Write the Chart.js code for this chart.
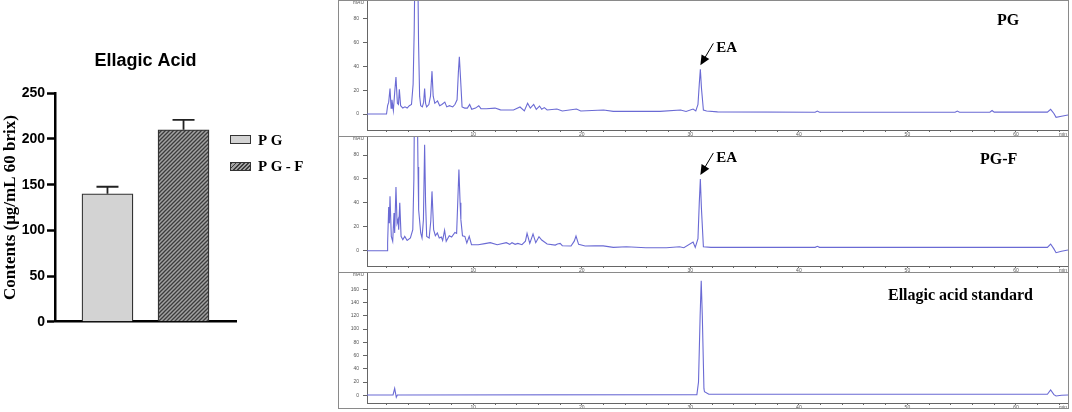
<!DOCTYPE html>
<html>
<head>
<meta charset="utf-8">
<script src="https://cdn.jsdelivr.net/npm/chart.js@4/dist/chart.umd.min.js"></script>
<style>
  html, body { margin: 0; padding: 0; background: #fff; }
  body { width: 1072px; height: 412px; position: relative; overflow: hidden; }
  canvas { position: absolute; }
  .frame { position: absolute; border: 1px solid #8a8a8a; box-sizing: border-box; pointer-events: none; }
  .tag { position: absolute; font: bold 16px "Liberation Serif", "Times New Roman", serif; line-height: 1; color: #000; white-space: nowrap; }
  .key { position: absolute; width: 21px; height: 9px; box-sizing: border-box; border: 1.2px solid #333; }
  .keytxt { position: absolute; font: bold 15px "Liberation Serif", "Times New Roman", serif; line-height: 1; letter-spacing: 3.5px; }
</style>
</head>
<body>
<canvas id="bars" width="330" height="330" style="left:0;top:0"></canvas>
<div class="key" style="left:230px;top:135px;background:#d3d3d3"></div>
<div class="keytxt" style="left:258px;top:132.5px">PG</div>
<div class="key" style="left:230px;top:162px;background:repeating-linear-gradient(135deg,#3c3c3c 0 1.3px,#a2a2a2 1.3px 2.9px)"></div>
<div class="keytxt" style="left:258px;top:159px">PG-F</div>

<canvas id="hplcPG" width="731" height="136" style="left:338px;top:0"></canvas>
<canvas id="hplcPGF" width="731" height="136" style="left:338px;top:136px"></canvas>
<canvas id="hplcSTD" width="731" height="137" style="left:338px;top:272px"></canvas>
<div class="frame" style="left:338px;top:0;width:731px;height:137px"></div>
<div class="frame" style="left:338px;top:136px;width:731px;height:137px"></div>
<div class="frame" style="left:338px;top:272px;width:731px;height:137px"></div>
<div class="tag" style="left:997px;top:11.5px">PG</div>
<div class="tag" style="left:980px;top:150.5px">PG-F</div>
<div class="tag" style="left:888px;top:287px">Ellagic acid standard</div>

<script>
'use strict';

// ── Bar chart data ───────────────────────────────────────────────────────────
const GROUPS      = ['PG', 'PG-F'];
const GROUP_POS   = [0, 1];
const CONTENT     = [140, 210];     // µg/mL 60 brix
const CONTENT_SD  = [7.7, 11];
const CONTENT_TICKS = [0, 50, 100, 150, 200, 250];

// ── Chromatograms (time in min, signal in mAU) ───────────────────────────────
const EA_TIME = 30.92;

const PG_TIME = [0.2, 2.0, 2.1, 2.2, 2.32, 2.42, 2.5, 2.63, 2.75, 2.87, 3.0, 3.1, 3.18, 3.3, 3.5, 3.7, 3.9,
  4.1, 4.3, 4.45, 4.55, 4.65, 4.85, 4.95, 5.05, 5.15, 5.3, 5.42, 5.51, 5.6, 5.7, 5.9, 6.05, 6.19, 6.3,
  6.45, 6.7, 6.9, 7.1, 7.37, 7.55, 7.8, 8.1, 8.3, 8.5, 8.62, 8.71, 8.82, 8.96, 9.2, 9.45, 9.66, 9.85,
  10.2, 10.5, 10.7, 11.2, 12.0, 12.5, 13.7, 14.3, 14.7, 15.0, 15.25, 15.56, 15.8, 16.1, 16.3, 16.54,
  16.8, 17.7, 18.2, 19.5, 19.9, 22.0, 22.9, 27.2, 29.1, 29.6, 30.25, 30.5, 30.7, 30.82, 30.92, 31.02,
  31.2, 31.5, 32.5, 41.5, 41.7, 41.9, 54.4, 54.6, 54.8, 57.6, 57.8, 58.0, 62.9, 63.2, 63.5, 63.7, 64.2, 64.8];
const PG_MAU = [0, 0, 7, 10, 21.5, 5, 12, 3, 18, 31, 9, 8, 20.7, 7, 5, 6, 5,
  7, 8, 25, 70, 150, 150, 60, 15, 7, 6, 10, 21.5, 9, 6, 8, 15, 36, 15,
  9, 11, 7, 8, 10, 6, 7, 6, 8, 12, 35, 48, 30, 6, 5, 5, 8, 4,
  5, 7, 4.5, 4.5, 5, 3.5, 3.4, 5.9, 2.6, 9, 5, 8.1, 4, 6.7, 4, 5.4,
  3.4, 4.2, 2.6, 4.2, 2.6, 3.4, 2.2, 2.2, 3.4, 2.2, 4.2, 2.6, 8, 25, 37.5, 22,
  3.4, 2.6, 1.8, 1.5, 2.5, 1.5, 1.5, 2.5, 1.5, 1.6, 3, 1.6, 1.6, 3.9, 0.5, -2.8, -1.8, -0.8];

const PGF_TIME = [0.2, 2.05, 2.1, 2.2, 2.26, 2.32, 2.44, 2.57, 2.69, 2.75, 2.87, 2.97, 3.06, 3.12, 3.22, 3.34,
  3.5, 3.68, 3.9, 4.2, 4.42, 4.52, 4.6, 4.8, 4.9, 4.96, 5.15, 5.27, 5.4, 5.51, 5.6, 5.7, 5.93, 6.08, 6.19,
  6.34, 6.5, 6.68, 6.86, 7.05, 7.17, 7.35, 7.5, 7.78, 8.0, 8.3, 8.46, 8.58, 8.67, 8.78, 8.85, 9.0, 9.22,
  9.4, 9.62, 9.83, 10.45, 11.06, 11.56, 12.2, 13.04, 13.35, 13.56, 13.85, 14.1, 14.48, 14.8, 14.95, 15.2,
  15.5, 15.75, 16.05, 16.3, 16.8, 17.55, 17.75, 18.0, 18.2, 19.0, 19.3, 19.46, 19.7, 20.3, 21.2, 21.97,
  22.9, 24.1, 25.9, 27.8, 29.0, 29.4, 30.25, 30.45, 30.7, 30.82, 30.92, 31.02, 31.2, 31.9, 41.5, 41.7,
  41.9, 62.9, 63.2, 63.5, 63.7, 64.2, 64.8];
const PGF_MAU = [0, 0, 6.4, 36.5, 23, 45.5, 12, 7.8, 31.5, 14.8, 53.3, 23, 26, 17.6, 40, 12,
  9.2, 12, 8.6, 10.6, 17.6, 60, 150, 150, 70, 34, 14.8, 10.6, 26, 88.7, 40, 12, 10.6, 25, 49.6,
  17.6, 12.5, 14.8, 10.6, 11.4, 8.6, 17, 7.8, 12.5, 11.4, 15.3, 14.5, 45, 67.8, 40, 26, 12.5, 12,
  6.4, 12, 5, 5, 5.9, 6.7, 5, 6.7, 5.3, 6.7, 5.3, 6.1, 5, 8, 14.5, 6.1,
  14, 6.7, 11.7, 8.9, 5.6, 4.7, 5.6, 6.1, 4.2, 3.9, 8, 12.3, 5.3, 3.9, 4.2, 4,
  2.8, 3.3, 2.5, 2.5, 3.3, 2.5, 7.3, 2.8, 10, 40, 60, 35, 3.3, 2.8, 2.8, 3.7,
  2.8, 2.8, 5.6, 1.5, -1.7, -0.5, 0.6];

const STD_TIME = [0.2, 2.6, 2.75, 2.9, 3.0, 30.6, 30.75, 30.9, 31.0, 31.1, 31.25, 31.3, 31.7, 62.9, 63.2, 63.5, 63.7, 64.2, 64.8];
const STD_MAU  = [0.5, 0.5, 10.5, -3, 0.5, 1, 20, 120, 173, 120, 10, 5.4, 1.5, 1.5, 8, 1, -1, 0, 0.5];

const TIME_TICKS   = [2, 4, 6, 8, 10, 12, 14, 16, 18, 20, 22, 24, 26, 28, 30, 32, 34, 36, 38, 40,
  42, 44, 46, 48, 50, 52, 54, 56, 58, 60, 62, 64];
const TIME_LABELS  = [10, 20, 30, 40, 50, 60];
const SAMPLE_TICKS = [0, 20, 40, 60, 80];
const STD_TICKS    = [0, 20, 40, 60, 80, 100, 120, 140, 160];

const COLORS = {
  trace:  '#6a6ad4',
  axis:   '#666',
  tick:   '#555',
  barPG:  '#d3d3d3',
  edge:   '#333',
  hatchBg: '#a2a2a2',
  hatchFg: '#3c3c3c',
};

function hatchPattern() {
  const c = document.createElement('canvas');
  c.width = 4; c.height = 4;
  const g = c.getContext('2d');
  g.fillStyle = COLORS.hatchBg;
  g.fillRect(0, 0, 4, 4);
  g.strokeStyle = COLORS.hatchFg;
  g.lineWidth = 1.3;
  g.beginPath();
  g.moveTo(0, 4); g.lineTo(4, 0);
  g.moveTo(-1, 1); g.lineTo(1, -1);
  g.moveTo(3, 5); g.lineTo(5, 3);
  g.stroke();
  return document.getElementById('bars').getContext('2d').createPattern(c, 'repeat');
}

// keep the plot area exactly where the layout padding puts it
function noLabelPadding(s) {
  s.paddingTop = 0; s.paddingBottom = 0;
  s.paddingLeft = 0; s.paddingRight = 0;
}

// one-sided SD whiskers on top of each bar
const errorBars = {
  id: 'errorBars',
  afterDatasetsDraw(chart) {
    const { ctx } = chart;
    const y = chart.scales.y;
    ctx.save();
    ctx.strokeStyle = '#222';
    ctx.lineWidth = 1.8;
    chart.getDatasetMeta(0).data.forEach((bar, i) => {
      const top = y.getPixelForValue(CONTENT[i] + CONTENT_SD[i]);
      ctx.beginPath();
      ctx.moveTo(bar.x, bar.y);
      ctx.lineTo(bar.x, top);
      ctx.moveTo(bar.x - 11, top);
      ctx.lineTo(bar.x + 11, top);
      ctx.stroke();
    });
    ctx.restore();
  },
};

new Chart(document.getElementById('bars'), {
  type: 'bar',
  data: {
    datasets: [{
      data: GROUP_POS.map((x, i) => ({ x, y: CONTENT[i] })),
      backgroundColor: [COLORS.barPG, hatchPattern()],
      borderColor: COLORS.edge,
      borderWidth: 1.3,
      borderSkipped: 'bottom',
      barThickness: 51,
    }],
  },
  options: {
    responsive: false,
    animation: false,
    layout: { padding: { top: 50, right: 94, bottom: 8.3, left: 0 } },
    plugins: {
      legend: { display: false },
      tooltip: { enabled: false },
      title: {
        display: true,
        text: 'Ellagic Acid',
        fullSize: false,
        color: '#000',
        font: { family: 'Liberation Sans, Arial, sans-serif', size: 18, weight: 'bold' },
        padding: { top: 0, bottom: 21.7 },
      },
    },
    scales: {
      x: {
        type: 'linear',
        min: -0.69,
        max: 1.69,
        offset: false,
        ticks: { display: false },
        grid: { display: false },
        border: { display: true, color: '#000', width: 2.5 },
        afterFit: s => { s.height = 0; noLabelPadding(s); },
      },
      y: {
        min: 0,
        max: 250,
        afterBuildTicks: s => { s.ticks = CONTENT_TICKS.map(value => ({ value })); },
        ticks: {
          color: '#000',
          padding: 2,
          font: { family: 'Liberation Sans, Arial, sans-serif', size: 14, weight: 'bold' },
        },
        grid: { drawOnChartArea: false, tickLength: 8, tickWidth: 2.5, tickColor: '#000' },
        border: { display: true, color: '#000', width: 2.5 },
        title: {
          display: true,
          text: 'Contents (μg/mL 60 brix)',
          color: '#000',
          padding: 0,
          font: { family: 'Liberation Serif, Times New Roman, serif', size: 17, weight: 'bold' },
        },
        afterFit: s => { s.width = 55; noLabelPadding(s); },
      },
    },
  },
  plugins: [errorBars],
});

// ── Chromatogram panels ──────────────────────────────────────────────────────
const eaArrow = {
  id: 'eaArrow',
  afterDatasetsDraw(chart, args, opts) {
    if (!opts.peak) return;
    const { ctx } = chart;
    const tipX = chart.scales.x.getPixelForValue(EA_TIME);
    const tipY = chart.scales.y.getPixelForValue(opts.peak) - 4;
    const dx = 13, dy = -22;
    const len = Math.hypot(dx, dy);
    const ux = dx / len, uy = dy / len;
    ctx.save();
    ctx.strokeStyle = '#000';
    ctx.fillStyle = '#000';
    ctx.lineWidth = 1;
    ctx.beginPath();
    ctx.moveTo(tipX + ux * 6, tipY + uy * 6);
    ctx.lineTo(tipX + dx, tipY + dy);
    ctx.stroke();
    ctx.beginPath();
    ctx.moveTo(tipX, tipY);
    ctx.lineTo(tipX + ux * 10 - uy * 4.5, tipY + uy * 10 + ux * 4.5);
    ctx.lineTo(tipX + ux * 10 + uy * 4.5, tipY + uy * 10 - ux * 4.5);
    ctx.closePath();
    ctx.fill();
    ctx.font = 'bold 15px "Liberation Serif", "Times New Roman", serif';
    ctx.textBaseline = 'alphabetic';
    ctx.fillText('EA', tipX + 16, tipY - 13);
    ctx.restore();
  },
};

const axisUnits = {
  id: 'axisUnits',
  afterDraw(chart) {
    const { ctx, chartArea } = chart;
    ctx.save();
    ctx.fillStyle = COLORS.tick;
    ctx.font = '5px "Liberation Sans", Arial, sans-serif';
    ctx.textBaseline = 'middle';
    ctx.textAlign = 'right';
    ctx.fillText('mAU', chartArea.left - 3, chartArea.top + 2);
    ctx.fillText('min', chartArea.right - 1, chartArea.bottom + 5);
    ctx.restore();
  },
};

function createTrace(canvasId, times, values, yMin, yMax, yTicks, peak) {
  return new Chart(document.getElementById(canvasId), {
    type: 'line',
    data: {
      datasets: [{
        data: times.map((t, i) => ({ x: t, y: values[i] })),
        borderColor: COLORS.trace,
        borderWidth: 1.1,
        pointRadius: 0,
        tension: 0,
      }],
    },
    options: {
      responsive: false,
      animation: false,
      layout: { padding: { top: 1, right: 1, bottom: 0, left: 0 } },
      plugins: {
        legend: { display: false },
        tooltip: { enabled: false },
        eaArrow: { peak },
      },
      scales: {
        x: {
          type: 'linear',
          min: 0.2,
          max: 64.8,
          afterBuildTicks: s => { s.ticks = TIME_TICKS.map(value => ({ value })); },
          ticks: {
            autoSkip: false,
            maxRotation: 0,
            padding: 0,
            color: COLORS.tick,
            font: { family: 'Liberation Sans, Arial, sans-serif', size: 5 },
            callback: v => (TIME_LABELS.includes(v) ? String(v) : ''),
          },
          grid: { drawOnChartArea: false, tickLength: 2, tickColor: COLORS.axis },
          border: { color: COLORS.axis, width: 1 },
          afterFit: s => { s.height = 6; noLabelPadding(s); },
        },
        y: {
          min: yMin,
          max: yMax,
          afterBuildTicks: s => { s.ticks = yTicks.map(value => ({ value })); },
          ticks: {
            padding: 4,
            color: COLORS.tick,
            font: { family: 'Liberation Sans, Arial, sans-serif', size: 5 },
          },
          grid: { drawOnChartArea: false, tickLength: 4, tickColor: COLORS.axis },
          border: { color: COLORS.axis, width: 1 },
          afterFit: s => { s.width = 29; noLabelPadding(s); },
        },
      },
    },
    plugins: [eaArrow, axisUnits],
  });
}

createTrace('hplcPG',  PG_TIME,  PG_MAU,  -13.4, 94.9, SAMPLE_TICKS, 37.5);
createTrace('hplcPGF', PGF_TIME, PGF_MAU, -12.8, 95.1, SAMPLE_TICKS, 60);
createTrace('hplcSTD', STD_TIME, STD_MAU, -11.6, 184.6, STD_TICKS, null);
</script>
</body>
</html>
